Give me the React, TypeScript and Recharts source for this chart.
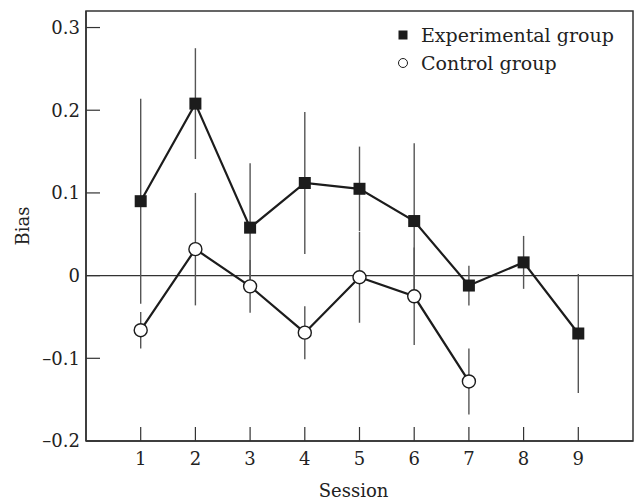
import {
  ComposedChart,
  Line,
  XAxis,
  YAxis,
  ErrorBar,
  ReferenceLine,
  ReferenceArea,
  Legend,
} from "recharts";

const sessions = [1, 2, 3, 4, 5, 6, 7, 8, 9];
const experimentalBias = [0.09, 0.208, 0.058, 0.112, 0.105, 0.066, -0.012, 0.016, -0.07];
const experimentalErr = [0.124, 0.067, 0.078, 0.086, 0.051, 0.094, 0.024, 0.032, 0.072];
const controlBias = [-0.066, 0.032, -0.013, -0.069, -0.002, -0.025, -0.128];
const controlErr = [0.022, 0.068, 0.032, 0.032, 0.055, 0.059, 0.04];
const yTicks = [-0.2, -0.1, 0, 0.1, 0.2, 0.3];

const experimental = experimentalBias.map((bias, i) => ({
  session: sessions[i],
  bias,
  err: experimentalErr[i],
}));
const control = controlBias.map((bias, i) => ({
  session: sessions[i],
  bias,
  err: controlErr[i],
}));

const FONT = "'DejaVu Serif', serif";
const INK = "#1c1c1c";

function SquareDot(props: any) {
  const { cx, cy } = props;
  if (cx == null || cy == null) return null;
  return <rect x={cx - 6} y={cy - 6} width={12} height={12} fill={INK} />;
}

function CircleDot(props: any) {
  const { cx, cy } = props;
  if (cx == null || cy == null) return null;
  return <circle cx={cx} cy={cy} r={6.5} fill="#fff" stroke={INK} strokeWidth={1.4} />;
}

function LegendBox() {
  const row = { display: "flex", alignItems: "center", height: 28 };
  const text = { fontFamily: FONT, fontSize: 19, color: "#222", lineHeight: "28px" };
  return (
    <div>
      <div style={row}>
        <svg width={14} height={28} style={{ marginRight: 11.5 }}>
          <rect x={2.5} y={9.5} width={9} height={9} fill={INK} />
        </svg>
        <span style={text}>Experimental group</span>
      </div>
      <div style={row}>
        <svg width={14} height={28} style={{ marginRight: 11.5 }}>
          <circle cx={7} cy={14} r={4.5} fill="#fff" stroke={INK} strokeWidth={1} />
        </svg>
        <span style={text}>Control group</span>
      </div>
    </div>
  );
}

const fmt = (v: number) => (v === 0 ? "0" : v < 0 ? "\u2013" + Math.abs(v).toFixed(1) : v.toFixed(1));

export default function App() {
  return (
    <div style={{ position: "absolute", left: 0, top: 0, background: "#fff" }}>
      <ComposedChart
        width={634}
        height={501}
        margin={{ top: 11, right: 1, left: 0, bottom: 0 }}
      >
        <XAxis
          dataKey="session"
          type="number"
          domain={[0, 10]}
          ticks={sessions}
          allowDataOverflow
          height={60}
          axisLine={{ stroke: "#333", strokeWidth: 1.5 }}
          tickLine={{ stroke: "#333", strokeWidth: 1.2 }}
          tickSize={-14}
          tickMargin={25}
          tick={{ fontFamily: FONT, fontSize: 18, fill: "#222" }}
          label={{
            value: "Session",
            position: "insideBottom",
            offset: 4,
            dx: -6,
            style: { fontFamily: FONT, fontSize: 18, fill: "#222" },
          }}
        />
        <YAxis
          type="number"
          domain={[-0.2, 0.32]}
          ticks={yTicks}
          allowDataOverflow
          width={86}
          axisLine={{ stroke: "#333", strokeWidth: 1.5 }}
          tickLine={{ stroke: "#333", strokeWidth: 1.2 }}
          tickSize={-14}
          tickMargin={20}
          tickFormatter={fmt}
          tick={{ fontFamily: FONT, fontSize: 18, fill: "#222" }}
          label={{
            value: "Bias",
            angle: -90,
            position: "insideLeft",
            offset: 23,
            style: { fontFamily: FONT, fontSize: 18, fill: "#222", textAnchor: "middle" },
          }}
        />
        <ReferenceArea
          x1={0}
          x2={10}
          y1={-0.2}
          y2={0.32}
          fill="none"
          stroke="#333"
          strokeWidth={1.5}
        />
        <ReferenceLine y={0} stroke="#333" strokeWidth={1.2} />
        <Legend
          layout="vertical"
          align="center"
          verticalAlign="middle"
          wrapperStyle={{ top: 21, left: 395.5, width: "auto", height: "auto" }}
          content={() => <LegendBox />}
        />
        <Line
          data={experimental}
          dataKey="bias"
          name="Experimental group"
          stroke={INK}
          strokeWidth={2.2}
          dot={<SquareDot />}
          activeDot={false}
          isAnimationActive={false}
        >
          <ErrorBar dataKey="err" width={0} stroke="#555" strokeWidth={1.4} direction="y" />
        </Line>
        <Line
          data={control}
          dataKey="bias"
          name="Control group"
          stroke={INK}
          strokeWidth={2.2}
          dot={<CircleDot />}
          activeDot={false}
          isAnimationActive={false}
        >
          <ErrorBar dataKey="err" width={0} stroke="#555" strokeWidth={1.4} direction="y" />
        </Line>
      </ComposedChart>
    </div>
  );
}
